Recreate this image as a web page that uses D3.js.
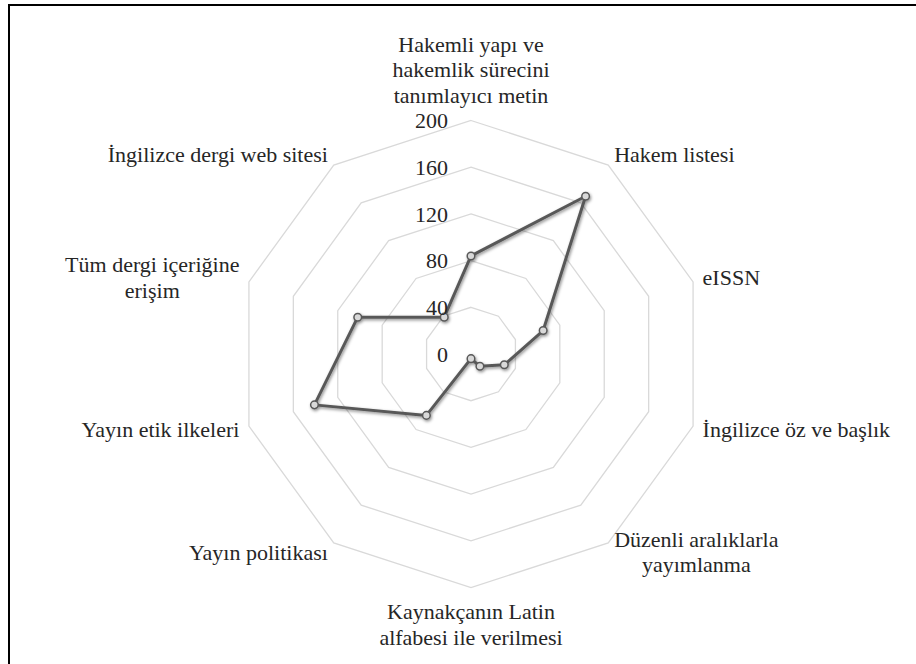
<!DOCTYPE html>
<html>
<head>
<meta charset="utf-8">
<script src="https://cdn.jsdelivr.net/npm/d3@7"></script>
</head>
<body style="margin:0">
<svg id="chart" width="916" height="664" style="display:block"></svg>
<script>
// ---- data ----
const categories = [
  "Hakemli yapı ve\nhakemlik sürecini\ntanımlayıcı metin",
  "Hakem listesi",
  "eISSN",
  "İngilizce öz ve başlık",
  "Düzenli aralıklarla\nyayımlanma",
  "Kaynakçanın Latin\nalfabesi ile verilmesi",
  "Yayın politikası",
  "Yayın etik ilkeleri",
  "Tüm dergi içeriğine\nerişim",
  "İngilizce dergi web sitesi"
];
const values = [84, 167, 65, 30, 13, 4, 65, 141, 102, 39];
const tickValues = [0, 40, 80, 120, 160, 200];
const tickLabels = ["0", "40", "80", "120", "160", "200"];

// ---- layout ----
const W = 916, H = 664;
const cx = 471, cy = 354, R = 233.5;
const fontSize = 22, lineH = 25.5;
const fontFamily = "Liberation Serif";

const svg = d3.select("#chart").style("font-family", fontFamily, "important");

// frame (partially visible border)
svg.append("path")
  .attr("d", `M9,${H} L9,5 L${W},5`)
  .attr("fill", "none").attr("stroke", "#000").attr("stroke-width", 2);

const defs = svg.append("defs");
const f = defs.append("filter").attr("id", "shadow")
  .attr("x", "-10%").attr("y", "-10%").attr("width", "130%").attr("height", "130%");
f.append("feDropShadow").attr("dx", 1).attr("dy", 1.5).attr("stdDeviation", 1.6)
  .attr("flood-color", "#000").attr("flood-opacity", 0.45);

const r = d3.scaleLinear().domain([0, 200]).range([0, R]);
const n = categories.length;
const angle = i => i * 2 * Math.PI / n;

const g = svg.append("g").attr("transform", `translate(${cx},${cy})`);

// grid rings
const ringLine = d3.lineRadial()
  .angle((d, i) => angle(i))
  .radius(d => r(d))
  .curve(d3.curveLinearClosed);

g.selectAll("path.ring")
  .data(tickValues.filter(t => t > 0))
  .join("path")
  .attr("class", "ring")
  .attr("d", t => ringLine(d3.range(n).map(() => t)))
  .attr("fill", "none")
  .attr("stroke", "#d9d9d9")
  .attr("stroke-width", 1.3);

// data line
const dataLine = d3.lineRadial()
  .angle((d, i) => angle(i))
  .radius(d => r(d))
  .curve(d3.curveLinearClosed);

const series = g.append("g").attr("filter", "url(#shadow)");
series.append("path")
  .attr("d", dataLine(values))
  .attr("fill", "none")
  .attr("stroke", "#595959")
  .attr("stroke-width", 3)
  .attr("stroke-linejoin", "round");

series.selectAll("circle")
  .data(values)
  .join("circle")
  .attr("cx", (d, i) => r(d) * Math.sin(angle(i)))
  .attr("cy", (d, i) => -r(d) * Math.cos(angle(i)))
  .attr("r", 3.8)
  .attr("fill", "#d9d9d9")
  .attr("stroke", "#595959")
  .attr("stroke-width", 1.5);

// tick labels
g.selectAll("text.tick")
  .data(tickValues)
  .join("text")
  .attr("class", "tick")
  .attr("x", -23)
  .attr("y", d => -r(d))
  .attr("dy", "0.35em")
  .attr("text-anchor", "end")
  .style("font-size", fontSize + "px", "important")
  .style("font-family", fontFamily, "important")
  .attr("fill", "#262626")
  .text((d, i) => tickLabels[i]);

// category labels
categories.forEach((label, i) => {
  const a = angle(i);
  const sx = Math.sin(a), sy = -Math.cos(a);
  const vx = R * sx, vy = R * sy;
  const lines = label.split("\n");
  const t = g.append("text")
    .style("font-size", fontSize + "px", "important")
    .style("font-family", fontFamily, "important")
    .attr("fill", "#262626")
    .attr("text-anchor", "middle");
  const spans = lines.map(l => t.append("tspan")
    .style("font-family", fontFamily, "important")
    .text(l));
  const w = d3.max(spans, s => s.node().getComputedTextLength());
  const h = lines.length * lineH;
  let bx, by;
  if (Math.abs(sx) < 0.05) {
    bx = vx;
    by = vy + sy * (h / 2 + 12);
  } else {
    bx = vx + Math.sign(sx) * (w / 2) + sx * 10;
    by = vy + sy * 12;
  }
  spans.forEach((s, k) => {
    s.attr("x", bx).attr("y", by - h / 2 + lineH * (k + 0.5) + 7);
  });
});
</script>
</body>
</html>
